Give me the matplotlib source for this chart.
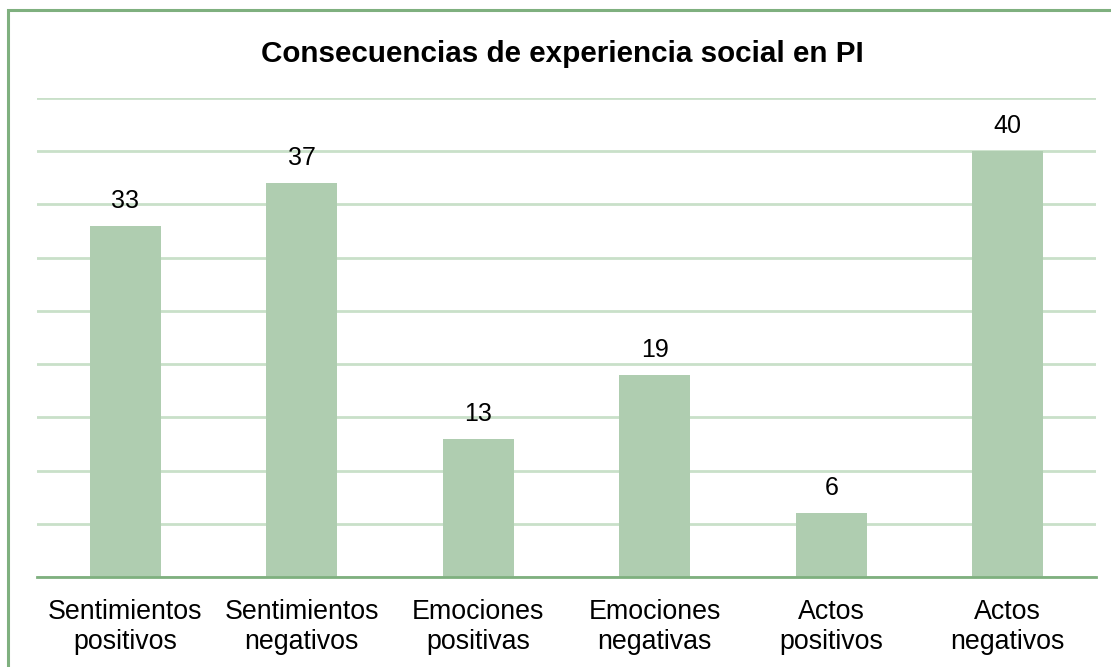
import matplotlib
matplotlib.use("Agg")
import matplotlib.pyplot as plt
from matplotlib.patches import Rectangle

categories = ["Sentimientos\npositivos", "Sentimientos\nnegativos", "Emociones\npositivas",
              "Emociones\nnegativas", "Actos\npositivos", "Actos\nnegativos"]
values = [33, 37, 13, 19, 6, 40]
title = "Consecuencias de experiencia social en PI"

plt.rcParams['font.family'] = ['Liberation Sans', 'DejaVu Sans']

W, H = 1111, 667
fig = plt.figure(figsize=(W / 100, H / 100), dpi=100)
ax = fig.add_axes([37 / W, 1 - 577 / H, (1096 - 37) / W, (577 - 98) / H])

bar_color = "#afcdb0"
grid_color = "#c9e0c9"
axis_color = "#7fb07f"

x = list(range(len(values)))
ax.bar(x, values, width=0.4, color=bar_color, zorder=2)
ax.set_xlim(-0.5, len(values) - 0.5)
ax.set_ylim(0, 45)
ax.set_yticks(range(0, 46, 5))
ax.yaxis.grid(True, color=grid_color, linewidth=2, zorder=0)
ax.tick_params(axis='y', left=False, labelleft=False)
ax.tick_params(axis='x', bottom=False, labelsize=19.3, pad=12)
ax.set_xticks(x)
ax.set_xticklabels(categories, linespacing=1.2)
for s in ['top', 'right', 'left']:
    ax.spines[s].set_visible(False)
ax.spines['bottom'].set_color(axis_color)
ax.spines['bottom'].set_linewidth(2)
ax.spines['bottom'].set_zorder(3)

for xi, v in zip(x, values):
    ax.annotate(str(v), (xi, v), xytext=(0, 18), textcoords='offset points',
                ha='center', va='center', fontsize=18)

fig.text(562 / W, 1 - 54 / H, title, ha='center', va='center', fontsize=21.3, fontweight='bold')

fig.patches.append(Rectangle((7.5 / W, -0.1), 1.2, (1 - 10 / H) + 0.1, transform=fig.transFigure,
                             fill=False, edgecolor=axis_color, linewidth=2.2, figure=fig))

fig.savefig("out.png", dpi=100)
